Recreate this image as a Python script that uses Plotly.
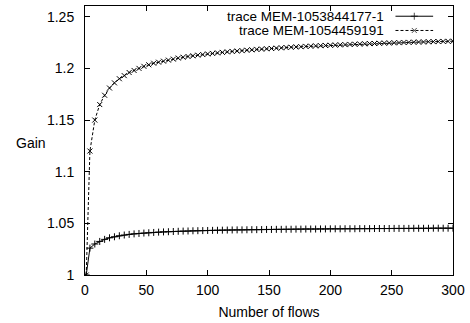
import plotly.graph_objects as go

flows = [1, 4, 8, 12, 16, 20, 24, 28, 32, 36, 40, 44, 48, 52, 56, 60, 64, 68, 72, 76,
         80, 84, 88, 92, 96, 100, 104, 108, 112, 116, 120, 124, 128, 132, 136, 140,
         144, 148, 152, 156, 160, 164, 168, 172, 176, 180, 184, 188, 192, 196, 200,
         204, 208, 212, 216, 220, 224, 228, 232, 236, 240, 244, 248, 252, 256, 260,
         264, 268, 272, 276, 280, 284, 288, 292, 296, 300]

gain_1053844177 = [1.000, 1.026, 1.030, 1.0325, 1.0345, 1.036, 1.037, 1.038, 1.0387, 1.0393,
                   1.0398, 1.0402, 1.0406, 1.0409, 1.0412, 1.0415, 1.0417, 1.0419, 1.0421, 1.0423,
                   1.0425, 1.0426, 1.0428, 1.0429, 1.0430, 1.0431, 1.0432, 1.0433, 1.0434, 1.0435,
                   1.0436, 1.0437, 1.0437, 1.0438, 1.0439, 1.0439, 1.0440, 1.0441, 1.0441, 1.0442,
                   1.0442, 1.0443, 1.0443, 1.0444, 1.0444, 1.0445, 1.0445, 1.0445, 1.0446, 1.0446,
                   1.0447, 1.0447, 1.0447, 1.0448, 1.0448, 1.0448, 1.0449, 1.0449, 1.0449, 1.0450,
                   1.0450, 1.0450, 1.0450, 1.0451, 1.0451, 1.0451, 1.0451, 1.0452, 1.0452, 1.0452,
                   1.0452, 1.0453, 1.0453, 1.0453, 1.0453, 1.0453]

gain_1054459191 = [1.000, 1.120, 1.150, 1.165, 1.174, 1.181, 1.186, 1.190, 1.193, 1.196,
                   1.198, 1.200, 1.202, 1.2035, 1.205, 1.206, 1.207, 1.208, 1.209, 1.210,
                   1.2108, 1.2115, 1.2122, 1.2128, 1.2134, 1.2140, 1.2145, 1.2150, 1.2155, 1.2160,
                   1.2164, 1.2168, 1.2172, 1.2176, 1.2180, 1.2184, 1.2187, 1.2190, 1.2193, 1.2196,
                   1.2199, 1.2202, 1.2205, 1.2208, 1.2210, 1.2213, 1.2215, 1.2218, 1.2220, 1.2222,
                   1.2224, 1.2226, 1.2228, 1.2230, 1.2232, 1.2234, 1.2236, 1.2238, 1.2240, 1.2241,
                   1.2243, 1.2245, 1.2246, 1.2248, 1.2249, 1.2251, 1.2252, 1.2254, 1.2255, 1.2256,
                   1.2258, 1.2259, 1.2260, 1.2261, 1.2262, 1.2263]

series_names = ["trace MEM-1053844177-1", "trace MEM-1054459191"]
x_ticks = [0, 50, 100, 150, 200, 250, 300]
y_ticks = [1, 1.05, 1.1, 1.15, 1.2, 1.25]
y_tick_labels = ["1", "1.05", "1.1", "1.15", "1.2", "1.25"]

FONT = "Liberation Sans, Arial, sans-serif"
FS = 14

fig = go.Figure()
fig.add_trace(go.Scatter(x=flows, y=gain_1053844177, mode="lines+markers",
                         line=dict(color="black", width=1),
                         marker=dict(symbol="cross-thin", size=5, line=dict(color="black", width=1)),
                         showlegend=False))
fig.add_trace(go.Scatter(x=flows, y=gain_1054459191, mode="lines+markers",
                         line=dict(color="black", width=1, dash="3px,2px"),
                         marker=dict(symbol="x-thin", size=5, line=dict(color="black", width=1)),
                         showlegend=False))

# custom gnuplot-style key (text left, sample right)
key_y = [0.962, 0.909]
styles = [dict(dash="solid", sym="cross-thin", size=5), dict(dash="3px,2px", sym="x-thin", size=5)]
for name, ky, st in zip(series_names, key_y, styles):
    fig.add_annotation(x=0.8167, y=ky, xref="paper", yref="paper", text=name,
                       showarrow=False, xanchor="right", yanchor="middle",
                       font=dict(family=FONT, size=13.5, color="black"))
    fig.add_trace(go.Scatter(x=[0.8437, 0.8948, 0.946], y=[ky, ky, ky], xaxis="x2", yaxis="y2",
                             mode="lines+markers",
                             line=dict(color="black", width=1, dash=st["dash"]),
                             marker=dict(symbol=st["sym"], size=[0, st["size"], 0],
                                         line=dict(color="black", width=1)),
                             showlegend=False, hoverinfo="skip"))

fig.add_annotation(x=-0.1456, y=0.49, xref="paper", yref="paper", text="Gain",
                   showarrow=False, xanchor="center", yanchor="middle",
                   font=dict(family=FONT, size=FS, color="black"))

fig.update_layout(
    width=470, height=323,
    margin=dict(l=85, r=14, t=5, b=43),
    paper_bgcolor="white", plot_bgcolor="white",
    font=dict(family=FONT, size=FS, color="black"),
    xaxis=dict(range=[0, 300], tickvals=x_ticks, ticks="inside", ticklen=5,
               tickcolor="black", showline=True, linecolor="black", linewidth=1,
               mirror="ticks", showgrid=False, zeroline=False, ticklabelstandoff=2,
               title=dict(text="Number of flows", standoff=10,
                          font=dict(family=FONT, size=FS))),
    yaxis=dict(range=[1, 1.2604], tickvals=y_ticks, ticktext=y_tick_labels,
               ticks="inside", ticklen=5, tickcolor="black", showline=True,
               linecolor="black", linewidth=1, mirror="ticks", showgrid=False,
               zeroline=False, ticklabelstandoff=7),
    xaxis2=dict(range=[0, 1], overlaying="x", visible=False, fixedrange=True),
    yaxis2=dict(range=[0, 1], overlaying="y", visible=False, fixedrange=True),
)

fig.write_html("out.html")
